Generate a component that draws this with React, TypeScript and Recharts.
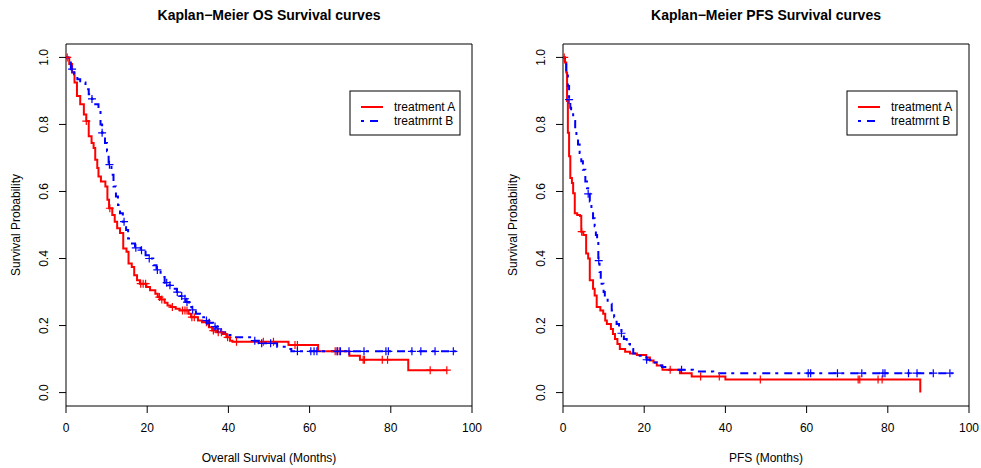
import React from 'react';
import { ComposedChart, Line, Scatter, XAxis, YAxis, ReferenceArea, Label } from 'recharts';

const xTicks = [0, 20, 40, 60, 80, 100];
const yTicks = [0, 0.2, 0.4, 0.6, 0.8, 1.0];
const seriesNames = ['treatment A', 'treatmrnt B'];
const titles = ['Kaplan\u2212Meier OS Survival curves', 'Kaplan\u2212Meier PFS Survival curves'];
const xLabels = ['Overall Survival (Months)', 'PFS (Months)'];

// OS, treatment A (months, survival)
const osTimeA = [0, 0.8, 1.5, 2.1, 2.7, 3.5, 4.4, 5.0, 5.6, 6.3, 6.8, 7.2, 7.7, 8.0, 8.6, 9.7, 10.2, 10.6, 11.4, 12.0, 12.6, 13.3, 14.1, 14.9, 15.4, 16.2, 16.8, 17.5, 18.2, 19.8, 20.7, 22.0, 22.6, 23.4, 24.3, 25.0, 25.8, 27.0, 28.0, 30.2, 30.8, 32.5, 33.5, 34.8, 35.2, 36.0, 37.0, 38.5, 39.5, 40.4, 41.0, 54.8, 62.1, 69.8, 72.4, 84.3, 93.8];
const osSurvA = [1.0, 0.98, 0.955, 0.925, 0.885, 0.86, 0.83, 0.81, 0.765, 0.745, 0.73, 0.695, 0.67, 0.645, 0.63, 0.615, 0.575, 0.55, 0.53, 0.51, 0.49, 0.476, 0.43, 0.42, 0.385, 0.375, 0.35, 0.335, 0.325, 0.315, 0.305, 0.295, 0.285, 0.278, 0.268, 0.26, 0.255, 0.25, 0.245, 0.235, 0.225, 0.215, 0.21, 0.205, 0.195, 0.185, 0.18, 0.175, 0.165, 0.155, 0.152, 0.142, 0.123, 0.11, 0.098, 0.067, 0.067];
const osCensorA = [0.3, 5.0, 10.8, 18.4, 19.0, 19.6, 23.0, 23.6, 26.2, 28.7, 29.3, 29.8, 31.0, 31.6, 34.6, 36.3, 37.5, 38.3, 39.8, 42.0, 48.6, 51.1, 56.4, 57.0, 66.3, 66.8, 67.3, 73.2, 73.5, 77.9, 79.2, 89.7, 93.8];

// OS, treatment B
const osTimeB = [0, 0.5, 1.2, 2.0, 2.8, 3.5, 4.8, 5.6, 6.4, 7.2, 8.0, 8.5, 8.9, 9.6, 10.1, 10.5, 11.2, 11.7, 12.3, 12.8, 13.3, 14.0, 14.8, 15.3, 16.0, 17.0, 18.4, 19.6, 20.3, 21.5, 22.3, 23.3, 24.3, 25.2, 26.5, 27.3, 28.0, 28.8, 29.5, 30.3, 31.0, 32.0, 33.0, 34.0, 35.0, 36.2, 37.0, 38.2, 39.5, 41.0, 46.2, 47.5, 52.0, 54.4, 55.5, 96.0];
const osSurvB = [1.0, 0.985, 0.965, 0.95, 0.935, 0.925, 0.905, 0.89, 0.876, 0.86, 0.845, 0.8, 0.775, 0.745, 0.72, 0.68, 0.65, 0.615, 0.585, 0.56, 0.535, 0.51, 0.485, 0.46, 0.445, 0.432, 0.425, 0.41, 0.4, 0.38, 0.366, 0.345, 0.328, 0.32, 0.31, 0.3, 0.288, 0.28, 0.27, 0.255, 0.247, 0.235, 0.225, 0.215, 0.208, 0.197, 0.19, 0.18, 0.172, 0.165, 0.155, 0.147, 0.137, 0.13, 0.123, 0.123];
const osCensorB = [1.5, 6.4, 8.9, 10.7, 14.3, 17.2, 18.6, 20.5, 22.5, 24.8, 25.6, 27.4, 28.5, 29.3, 29.8, 31.2, 34.6, 35.3, 36.7, 37.4, 46.5, 48.2, 50.4, 57.0, 60.3, 61.1, 61.8, 66.8, 67.6, 69.7, 73.4, 78.8, 79.4, 85.2, 87.4, 90.9, 95.4];

// PFS, treatment A
const pfsTimeA = [0, 0.5, 0.8, 1.0, 1.2, 1.5, 1.8, 2.2, 2.5, 2.9, 3.5, 4.2, 4.5, 5.0, 5.7, 6.2, 6.6, 7.4, 7.8, 8.3, 9.2, 9.9, 10.4, 10.8, 11.8, 12.3, 12.8, 13.4, 14.0, 15.3, 16.5, 18.2, 20.5, 21.4, 22.3, 23.1, 24.5, 28.8, 31.7, 40.0, 88.0];
const pfsSurvA = [1.0, 0.985, 0.955, 0.87, 0.775, 0.705, 0.64, 0.625, 0.595, 0.535, 0.53, 0.527, 0.48, 0.47, 0.415, 0.4, 0.335, 0.31, 0.29, 0.255, 0.245, 0.235, 0.215, 0.205, 0.19, 0.175, 0.16, 0.145, 0.13, 0.122, 0.117, 0.112, 0.105, 0.096, 0.09, 0.081, 0.068, 0.058, 0.048, 0.039, 0.0];
const pfsCensorA = [0.3, 4.6, 26.4, 33.9, 38.5, 48.6, 72.7, 73.1, 77.6, 78.6];

// PFS, treatment B
const pfsTimeB = [0, 0.4, 0.8, 1.2, 1.5, 1.8, 2.0, 2.5, 3.0, 3.3, 3.7, 4.1, 4.5, 4.9, 5.5, 5.9, 6.2, 6.6, 7.0, 7.4, 7.8, 8.1, 8.4, 8.7, 9.0, 9.3, 9.5, 10.0, 10.3, 11.0, 12.0, 12.6, 13.2, 13.8, 14.4, 15.0, 15.7, 16.5, 17.3, 18.5, 19.5, 20.6, 21.5, 23.1, 24.4, 25.5, 32.0, 37.0, 96.0];
const pfsSurvB = [1.0, 0.985, 0.955, 0.915, 0.874, 0.85, 0.835, 0.81, 0.785, 0.765, 0.74, 0.715, 0.69, 0.665, 0.63, 0.61, 0.593, 0.57, 0.545, 0.52, 0.496, 0.47, 0.446, 0.394, 0.36, 0.336, 0.325, 0.3, 0.285, 0.265, 0.245, 0.225, 0.205, 0.19, 0.177, 0.16, 0.145, 0.13, 0.117, 0.11, 0.104, 0.098, 0.09, 0.081, 0.076, 0.068, 0.063, 0.058, 0.058];
const pfsCensorB = [1.5, 6.2, 8.8, 14.4, 20.6, 29.2, 60.4, 61.0, 67.6, 73.6, 78.8, 79.3, 85.1, 87.2, 91.2, 95.3];

const RED = '#ff0000';
const BLUE = '#0000ff';
const DOTDASH = '3 6 8 5';

const toPoints = (time: number[], surv: number[]) => time.map((t, i) => ({ t, s: surv[i] }));
const stepAt = (time: number[], surv: number[], x: number) => {
  let v = surv[0];
  time.forEach((t, i) => { if (t <= x) v = surv[i]; });
  return v;
};
const censorPoints = (time: number[], surv: number[], cens: number[]) =>
  cens.map((t) => ({ t, s: stepAt(time, surv, t) }));

const plus = (color: string) => (p: any) => (
  <path
    d={`M${p.cx - 4},${p.cy}H${p.cx + 4}M${p.cx},${p.cy - 4}V${p.cy + 4}`}
    stroke={color}
    strokeWidth={1.2}
    fill="none"
  />
);

const YTick = (props: any) => {
  const { x, y, payload } = props;
  return (
    <text x={x} y={y} transform={`rotate(-90, ${x}, ${y})`} textAnchor="middle" fontSize={12} fill="#000">
      {Number(payload.value).toFixed(1)}
    </text>
  );
};

const H = 468;

function KMPanel({ left, width, padLeft, padRight, title, xLabel, tA, sA, cA, tB, sB, cB }: any) {
  const plotLeft = padLeft + 60;
  const plotRight = width - padRight;
  const legX = plotRight - 12 - 110;
  return (
    <div style={{ position: 'absolute', left, top: 0, width, height: H }}>
      <ComposedChart width={width} height={H} margin={{ top: 44, right: padRight, bottom: 32, left: padLeft }}>
        <XAxis
          type="number"
          dataKey="t"
          domain={[0, 100]}
          ticks={xTicks}
          interval={0}
          allowDataOverflow
          axisLine={false}
          tickSize={7}
          tickMargin={10}
          stroke="#000"
          height={30}
          tick={{ fontSize: 12, fill: '#000' }}
        >
          <Label
            content={(p: any) => {
              const vb = p.viewBox || { x: plotLeft, y: 406, width: plotRight - plotLeft };
              return (
                <text x={vb.x + vb.width / 2} y={vb.y + 56} textAnchor="middle" fontSize={12} fill="#000">
                  {xLabel}
                </text>
              );
            }}
          />
        </XAxis>
        <YAxis
          type="number"
          dataKey="s"
          domain={[-0.04, 1.04]}
          ticks={yTicks}
          interval={0}
          allowDataOverflow
          axisLine={false}
          tickSize={7}
          tickMargin={11}
          width={60}
          stroke="#000"
          tick={<YTick />}
        >
          <Label
            content={(p: any) => {
              const vb = p.viewBox || { x: padLeft, y: 44, width: 60, height: 362 };
              const cx = vb.x + vb.width - 46;
              const cy = vb.y + vb.height / 2;
              return (
                <text x={cx} y={cy} transform={`rotate(-90, ${cx}, ${cy})`} textAnchor="middle" fontSize={12} fill="#000">
                  Survival Probability
                </text>
              );
            }}
          />
        </YAxis>
        <ReferenceArea x1={0} x2={100} y1={-0.04} y2={1.04} fill="none" stroke="#000" strokeWidth={1} />
        <Line data={toPoints(tA, sA)} dataKey="s" type="stepAfter" stroke={RED} strokeWidth={2} dot={false} activeDot={false} isAnimationActive={false} />
        <Scatter data={censorPoints(tA, sA, cA)} dataKey="s" shape={plus(RED)} isAnimationActive={false} />
        <Line data={toPoints(tB, sB)} dataKey="s" type="stepAfter" stroke={BLUE} strokeWidth={2} strokeDasharray={DOTDASH} dot={false} activeDot={false} isAnimationActive={false} />
        <Scatter data={censorPoints(tB, sB, cB)} dataKey="s" shape={plus(BLUE)} isAnimationActive={false} />
      </ComposedChart>
      <svg width={width} height={H} style={{ position: 'absolute', left: 0, top: 0, pointerEvents: 'none' }}>
        <text x={(plotLeft + plotRight) / 2} y={19.5} textAnchor="middle" fontSize={14} fontWeight="bold" fill="#000">
          {title}
        </text>
        <rect x={legX} y={91} width={110} height={44} fill="#fff" stroke="#000" strokeWidth={1} />
        <line x1={legX + 11} x2={legX + 33} y1={107} y2={107} stroke={RED} strokeWidth={2} />
        <line x1={legX + 11} x2={legX + 33} y1={121} y2={121} stroke={BLUE} strokeWidth={2} strokeDasharray={DOTDASH} />
        <text x={legX + 44} y={111.3} fontSize={12} fill="#000">{seriesNames[0]}</text>
        <text x={legX + 44} y={125.3} fontSize={12} fill="#000">{seriesNames[1]}</text>
      </svg>
    </div>
  );
}

export default function App() {
  return (
    <div
      style={{
        position: 'absolute',
        left: 0,
        top: 0,
        width: 981,
        height: H,
        background: '#fff',
        fontFamily: '"Liberation Sans", Arial, Helvetica, sans-serif',
      }}
    >
      <KMPanel
        left={0}
        width={490}
        padLeft={6}
        padRight={18}
        title={titles[0]}
        xLabel={xLabels[0]}
        tA={osTimeA}
        sA={osSurvA}
        cA={osCensorA}
        tB={osTimeB}
        sB={osSurvB}
        cB={osCensorB}
      />
      <KMPanel
        left={490}
        width={491}
        padLeft={13}
        padRight={12}
        title={titles[1]}
        xLabel={xLabels[1]}
        tA={pfsTimeA}
        sA={pfsSurvA}
        cA={pfsCensorA}
        tB={pfsTimeB}
        sB={pfsSurvB}
        cB={pfsCensorB}
      />
    </div>
  );
}
